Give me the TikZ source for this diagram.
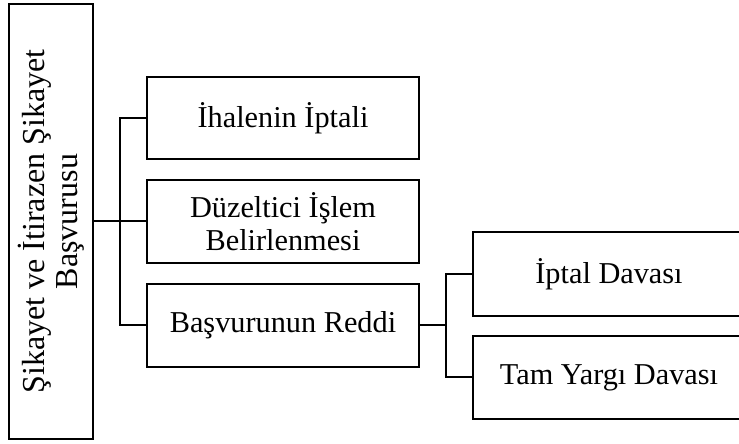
\documentclass[tikz,border=0pt]{standalone}
\usepackage{fontspec}
\setmainfont{Liberation Serif}
\begin{document}
\begin{tikzpicture}[x=1pt,y=1pt,
  box/.style={draw=black,line width=2pt,inner sep=0pt,align=center,
    font=\fontsize{30.3}{33}\selectfont},
  conn/.style={draw=black,line width=2pt}]
\useasboundingbox (0,0) rectangle (739,444);
% main box (rotated)
\node[box,rotate=90,minimum width=435pt,minimum height=84pt,
  font=\fontsize{32}{33}\selectfont] (L) at (51,222.5)
  {Şikayet ve İtirazen Şikayet\\Başvurusu};
% first level
\node[box,minimum width=272pt,minimum height=82pt] (B1) at (283,326) {İhalenin İptali};
\node[box,minimum width=272pt,minimum height=83pt] (B2) at (283,222.5) {Düzeltici İşlem\\Belirlenmesi};
\node[box,minimum width=272pt,minimum height=83pt] (B3) at (283,118.5) {Başvurunun Reddi};
% second level
\node[box,minimum width=272pt,minimum height=84pt] (B4) at (609,170) {İptal Davası};
\node[box,minimum width=272pt,minimum height=83pt] (B5) at (609,66.5) {Tam Yargı Davası};
% connectors
\coordinate (tr) at (120,0);
\coordinate (br) at (446,0);
\draw[conn] (L.south |- B2.west) -- (B2.west);
\draw[conn] (B1.west) -- (B1.west -| tr) -- (B3.west -| tr) -- (B3.west);
\draw[conn] (B3.east) -- (B3.east -| br);
\draw[conn] (B4.west) -- (B4.west -| br) -- (B5.west -| br) -- (B5.west);
\end{tikzpicture}
\end{document}
